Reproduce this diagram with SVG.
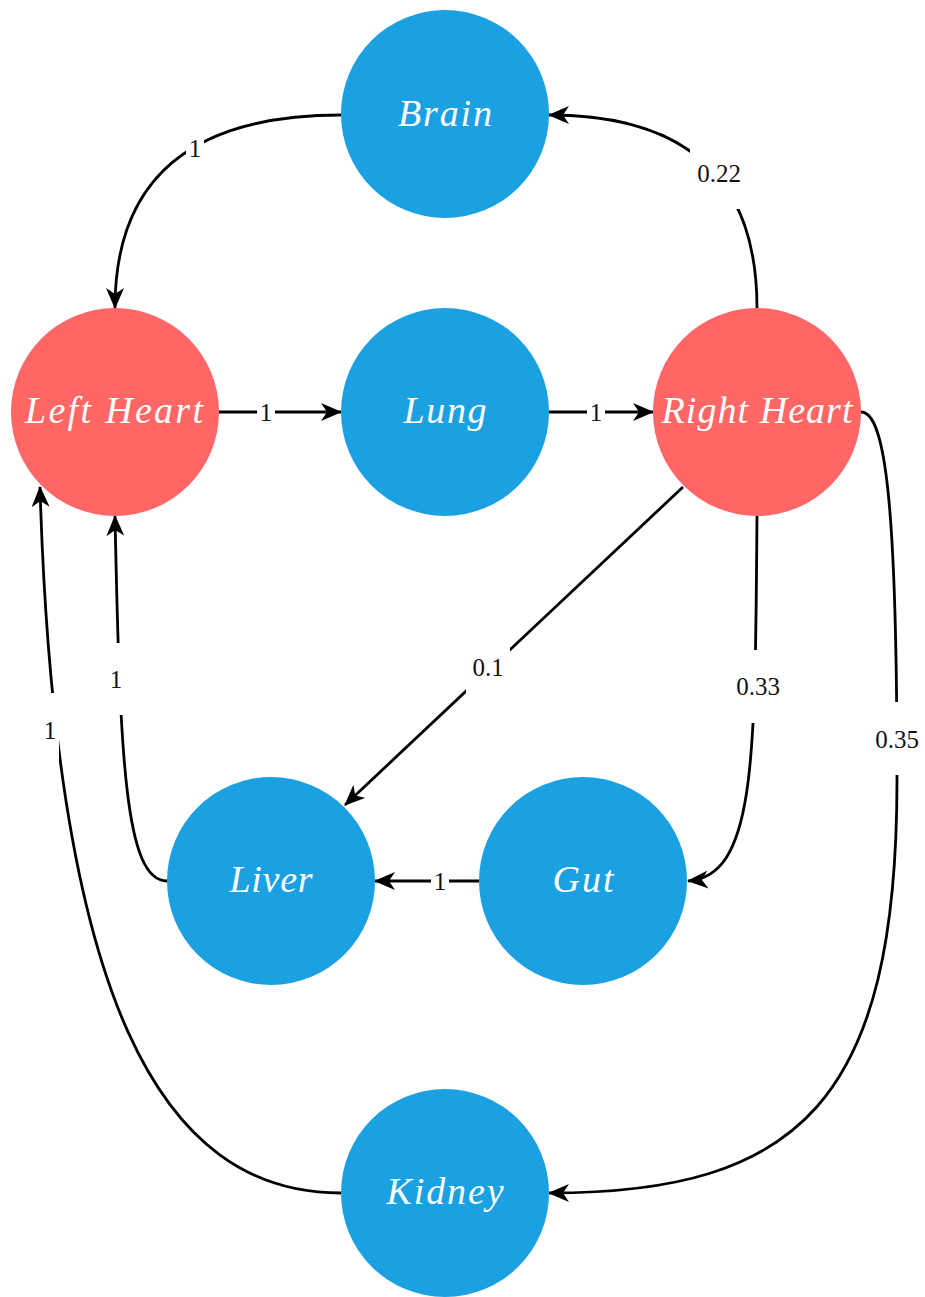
<svg xmlns="http://www.w3.org/2000/svg" width="925" height="1297" viewBox="0 0 925 1297">
<style>
.edge{fill:none;stroke:#000;stroke-width:2.8;marker-end:url(#arr)}
.lbg{fill:#fff}
.lbl{font-family:"Liberation Serif","DejaVu Serif",serif;font-size:25px;fill:#111;text-anchor:middle}
.blue{fill:#1BA1E2}
.red{fill:#FF6666}
.nt{font-family:"Liberation Serif","DejaVu Serif",serif;font-style:italic;font-size:38px;fill:#fff;text-anchor:middle}
</style>
<defs>
<marker id="arr" viewBox="0 0 21 18" refX="20" refY="9" markerWidth="21" markerHeight="18" markerUnits="userSpaceOnUse" orient="auto">
<path d="M0,0 L21,9 L0,18 L6,9 z" fill="#000"/>
</marker>
</defs>
<rect width="925" height="1297" fill="#fff"/>
<g id="connectors">
<path class="edge" d="M341,115 Q115,115 115,308"/>
<path class="edge" d="M757,308 Q757,115 549,115"/>
<path class="edge" d="M219,412 L341,412"/>
<path class="edge" d="M549,412 L653,412"/>
<path class="edge" d="M683,487 L345,805"/>
<path class="edge" d="M757,516 C755,760 756,876 688,881"/>
<path class="edge" d="M861,412 C885,412 897,500 897,780 C897,1100 800,1193 549,1193"/>
<path class="edge" d="M167,881 C125,881 120,760 115,516"/>
<path class="edge" d="M341,1193 C160,1193 55,1000 40,487"/>
<path class="edge" d="M479,881 L375,881"/>
<g id="labels">
<rect class="lbg" x="186" y="112" width="18" height="72"/><text class="lbl" x="195" y="157">1</text>
<rect class="lbg" x="690" y="137" width="58" height="72"/><text class="lbl" x="719" y="182">0.22</text>
<rect class="lbg" x="257" y="376" width="18" height="72"/><text class="lbl" x="266" y="421">1</text>
<rect class="lbg" x="587" y="376" width="18" height="72"/><text class="lbl" x="596" y="421">1</text>
<rect class="lbg" x="466" y="631" width="44" height="72"/><text class="lbl" x="488" y="676">0.1</text>
<rect class="lbg" x="730" y="650" width="56" height="73"/><text class="lbl" x="758" y="695">0.33</text>
<rect class="lbg" x="870" y="702" width="54" height="73"/><text class="lbl" x="897" y="748">0.35</text>
<rect class="lbg" x="107" y="643" width="18" height="72"/><text class="lbl" x="116" y="688">1</text>
<rect class="lbg" x="41" y="693" width="18" height="72"/><text class="lbl" x="50" y="739">1</text>
<rect class="lbg" x="431" y="845" width="18" height="72"/><text class="lbl" x="440" y="890">1</text>
</g>
</g>
<g id="brain"><circle class="blue" cx="445" cy="114" r="104"/><text class="nt" x="445" y="126" textLength="94" lengthAdjust="spacing">Brain</text></g>
<g id="left-heart"><circle class="red" cx="115" cy="412" r="104"/><text class="nt" x="114" y="423" textLength="178" lengthAdjust="spacing">Left Heart</text></g>
<g id="lung"><circle class="blue" cx="445" cy="412" r="104"/><text class="nt" x="445" y="423" textLength="83" lengthAdjust="spacing">Lung</text></g>
<g id="right-heart"><circle class="red" cx="757" cy="412" r="104"/><text class="nt" x="757" y="423" textLength="191" lengthAdjust="spacing">Right Heart</text></g>
<g id="liver"><circle class="blue" cx="271" cy="881" r="104"/><text class="nt" x="271" y="892" textLength="83" lengthAdjust="spacing">Liver</text></g>
<g id="gut"><circle class="blue" cx="583" cy="881" r="104"/><text class="nt" x="583" y="892" textLength="61" lengthAdjust="spacing">Gut</text></g>
<g id="kidney"><circle class="blue" cx="445" cy="1193" r="104"/><text class="nt" x="445" y="1204" textLength="117" lengthAdjust="spacing">Kidney</text></g>
</svg>
